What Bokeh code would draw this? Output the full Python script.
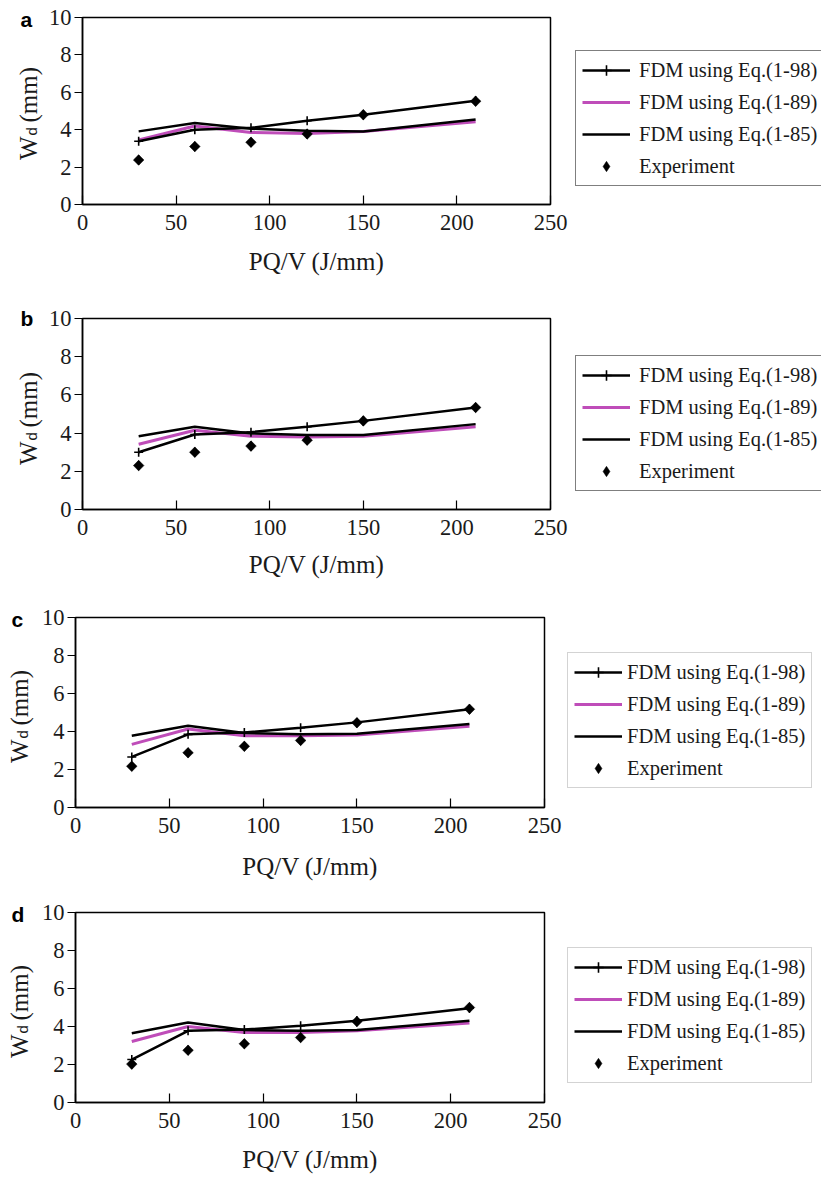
import numpy as np
from bokeh.plotting import figure
from bokeh.models import Range1d, Legend, LegendItem, Label, FixedTicker, Title
from bokeh.layouts import column, row
from bokeh.embed import file_html
from bokeh.resources import INLINE

# ---------------- data ----------------
pqv = [30, 60, 90, 120, 150, 210]
x_ticks = [0, 50, 100, 150, 200, 250]
y_ticks = [0, 2, 4, 6, 8, 10]
series_labels = ["FDM using Eq.(1-98)", "FDM using Eq.(1-89)", "FDM using Eq.(1-85)", "Experiment"]
panel_letters = ["a", "b", "c", "d"]
x_title = "PQ/V (J/mm)"

a_eq98 = [3.38, 4.00, 4.10, 4.48, 4.80, 5.55]
a_eq89 = [3.45, 4.20, 3.85, 3.80, 3.90, 4.43]
a_eq85 = [3.91, 4.36, 4.05, 3.95, 3.90, 4.54]
a_exp = [2.38, 3.10, 3.33, 3.77, 4.80, 5.52]

b_eq98 = [3.00, 3.93, 4.05, 4.33, 4.64, 5.34]
b_eq89 = [3.42, 4.15, 3.84, 3.80, 3.84, 4.33]
b_eq85 = [3.84, 4.33, 3.98, 3.90, 3.90, 4.47]
b_exp = [2.30, 3.00, 3.32, 3.63, 4.64, 5.34]

c_eq98 = [2.66, 3.85, 3.95, 4.20, 4.48, 5.17]
c_eq89 = [3.32, 4.13, 3.78, 3.78, 3.81, 4.27]
c_eq85 = [3.78, 4.30, 3.92, 3.85, 3.88, 4.40]
c_exp = [2.17, 2.88, 3.22, 3.53, 4.46, 5.17]

d_eq98 = [2.26, 3.77, 3.84, 4.04, 4.30, 4.96]
d_eq89 = [3.21, 4.00, 3.68, 3.68, 3.77, 4.19]
d_eq85 = [3.65, 4.21, 3.81, 3.77, 3.81, 4.30]
d_exp = [2.02, 2.75, 3.09, 3.42, 4.26, 5.00]

# ---------------- styling / layout ----------------
MAGENTA = "#bf4db9"
SERIF = "Liberation Serif"
TXT = "#1a1a1a"
TOTAL_W = 819

layouts = [
    dict(hw=44, left=38, fw=468, top=17, fh=187, bottom=96, xls=15, loc=(25, 18), lbc="black",
         lstand=9, lx=20, wx=36, tso=-27),
    dict(hw=44, left=38, fw=468, top=18, fh=191, bottom=91, xls=13, loc=(25, 18), lbc="black",
         lstand=9, lx=20, wx=36, tso=-23),
    dict(hw=38, left=37, fw=469, top=17, fh=190, bottom=88, xls=17, loc=(23, 19), lbc="#a8a8a8",
         lstand=5, lx=11, wx=27, tso=-27),
    dict(hw=38, left=37, fw=469, top=17, fh=190, bottom=73, xls=15, loc=(23, 19), lbc="#a8a8a8",
         lstand=5, lx=11, wx=27, tso=-27),
]
data = [
    (a_eq98, a_eq89, a_eq85, a_exp),
    (b_eq98, b_eq89, b_eq85, b_exp),
    (c_eq98, c_eq89, c_eq85, c_exp),
    (d_eq98, d_eq89, d_eq85, d_exp),
]


def style_axis(ax):
    ax.minor_tick_in = 0
    ax.minor_tick_out = 0
    ax.axis_line_width = 1.5
    ax.axis_line_color = "black"
    ax.major_tick_line_width = 1.2
    ax.major_tick_line_color = "black"
    ax.major_label_text_font = SERIF
    ax.major_label_text_font_size = "22.5px"
    ax.major_label_text_color = TXT


def make_panel(letter, lay, d98, d89, d85, dexp):
    fig_h = lay["top"] + lay["fh"] + lay["bottom"]
    main_w = TOTAL_W - lay["hw"]
    p = figure(frame_width=lay["fw"], frame_height=lay["fh"],
               min_border_left=lay["left"], min_border_right=main_w - lay["left"] - lay["fw"],
               min_border_top=lay["top"], min_border_bottom=lay["bottom"],
               x_range=Range1d(0, 250), y_range=Range1d(0, 10),
               output_backend="svg", toolbar_location=None, tools="")
    p.xgrid.visible = False
    p.ygrid.visible = False
    p.outline_line_color = "black"
    p.outline_line_width = 1.5

    xa = p.xaxis[0]
    style_axis(xa)
    xa.ticker = FixedTicker(ticks=x_ticks)
    xa.major_tick_in = 9
    xa.major_tick_out = 0
    xa.major_label_standoff = 10
    xa.axis_label = x_title
    xa.axis_label_text_font = SERIF
    xa.axis_label_text_font_size = "25px"
    xa.axis_label_text_font_style = "normal"
    xa.axis_label_text_color = TXT
    xa.axis_label_standoff = lay["xls"]

    ya = p.yaxis[0]
    style_axis(ya)
    ya.ticker = FixedTicker(ticks=y_ticks)
    ya.major_tick_in = 0
    ya.major_tick_out = 8
    ya.major_label_standoff = 3

    r89 = p.line(pqv, d89, line_color=MAGENTA, line_width=3)
    r98 = p.line(pqv, d98, line_color="black", line_width=2.5)
    r85 = p.line(pqv, d85, line_color="black", line_width=2.5)
    m98 = p.scatter(pqv, d98, marker="cross", size=9, line_color="black", line_width=1.6)
    # diamond key (used by the legend); covered exactly by the square-diamonds drawn on top
    exp_key = p.scatter(pqv, dexp, marker="diamond", size=10,
                        fill_color="black", line_color="black", line_width=0.5)
    p.scatter(pqv, dexp, marker="square", angle=np.pi / 4, size=7.5,
              fill_color="black", line_color="black", line_width=0.5)

    legend = Legend(items=[
        LegendItem(label=series_labels[0], renderers=[r98, m98]),
        LegendItem(label=series_labels[1], renderers=[r89]),
        LegendItem(label=series_labels[2], renderers=[r85]),
        LegendItem(label=series_labels[3], renderers=[exp_key]),
    ], location=lay["loc"])
    legend.label_text_font = SERIF
    legend.label_text_font_size = "20.5px"
    legend.label_text_color = TXT
    legend.glyph_width = 48
    legend.glyph_height = 26
    legend.label_height = 26
    legend.label_standoff = lay["lstand"]
    legend.spacing = 6
    legend.padding = 6
    legend.margin = 0
    legend.border_line_color = lay["lbc"]
    legend.border_line_width = 1.3
    legend.background_fill_color = "white"
    legend.background_fill_alpha = 1
    p.add_layout(legend, "right")

    # helper strip on the left holding the panel letter and the y title
    h = figure(width=lay["hw"], height=fig_h,
               min_border_left=0, min_border_right=0,
               min_border_top=lay["top"], min_border_bottom=lay["bottom"],
               x_range=Range1d(0, lay["hw"]), y_range=Range1d(0, lay["fh"]),
               x_axis_location=None, y_axis_location=None,
               output_backend="svg", toolbar_location=None, tools="")
    h.xgrid.visible = False
    h.ygrid.visible = False
    h.outline_line_color = None
    h.add_layout(Title(text=letter, align="left", offset=lay["lx"], vertical_align="bottom",
                       standoff=lay["tso"], text_font="Liberation Sans", text_font_style="bold",
                       text_font_size="21px", text_color="black"), "above")
    wx = lay["wx"]  # baseline position of the rotated y title
    h.add_layout(Label(x=wx - 8.4, y=44.5, x_units="screen", y_units="screen", text="W",
                       angle=np.pi / 2, text_font=SERIF, text_font_size="25px",
                       text_color=TXT, text_baseline="middle", text_align="left"))
    h.add_layout(Label(x=wx - 5.2, y=69, x_units="screen", y_units="screen", text="d",
                       angle=np.pi / 2, text_font="Liberation Sans", text_font_size="15px",
                       text_color=TXT, text_baseline="middle", text_align="left"))
    h.add_layout(Label(x=wx - 8.4, y=82, x_units="screen", y_units="screen", text="(mm)",
                       angle=np.pi / 2, text_font=SERIF, text_font_size="25px",
                       text_color=TXT, text_baseline="middle", text_align="left"))
    return row(h, p, spacing=0)


panels = []
for letter, lay, (d98, d89, d85, dexp) in zip(panel_letters, layouts, data):
    panels.append(make_panel(letter, lay, d98, d89, d85, dexp))

layout = column(*panels, spacing=0)
open("out.html", "w").write(file_html(layout, INLINE))
